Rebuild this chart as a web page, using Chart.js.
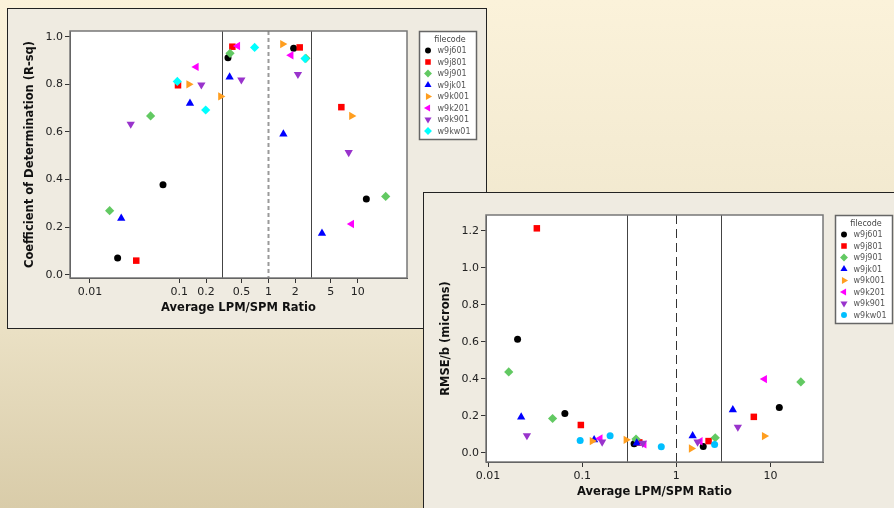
<!DOCTYPE html>
<html>
<head>
<meta charset="utf-8">
<script src="https://cdn.jsdelivr.net/npm/chart.js@4.4.1/dist/chart.umd.min.js"></script>
<style>
    html, body { margin: 0; padding: 0; }
    body {
        width: 894px; height: 508px; overflow: hidden; position: relative;
        background: linear-gradient(to bottom, #fbf2da 0%, #efe6cc 55%, #d9cca9 100%);
    }
    .panel { position: absolute; width: 478px; height: 319px; background: #efebe1; border: 1px solid #222; }
    #panel1 { left: 7px; top: 8px; z-index: 1; }
    #panel2 { left: 423px; top: 192px; z-index: 2; }
    canvas { display: block; }
</style>
</head>
<body>
<div class="panel" id="panel1"><canvas id="rsqChart" width="478" height="319"></canvas></div>
<div class="panel" id="panel2"><canvas id="rmseChart" width="478" height="319"></canvas></div>
<script>
// Series names (one per filecode)
const fileCodes = ['w9j601', 'w9j801', 'w9j901', 'w9jk01', 'w9k001', 'w9k201', 'w9k901', 'w9kw01'];

// Top chart: average LPM/SPM ratio vs R-sq, per filecode
const rsqRatios = [
    [0.0204, 0.0658, 0.352, 1.916, 12.5],
    [0.033, 0.0969, 0.394, 2.24, 6.56],
    [0.0166, 0.0478, 0.371, 2.63, 20.6],
    [0.0224, 0.132, 0.367, 1.47, 3.98],
    [0.128, 0.291, 1.44, 8.55],
    [0.155, 0.452, 1.79, 8.55],
    [0.0286, 0.177, 0.497, 2.14, 7.93],
    [0.0952, 0.198, 0.70, 2.57]
];
const rsqValues = [
    [0.070, 0.378, 0.912, 0.951, 0.318],
    [0.059, 0.796, 0.958, 0.955, 0.704],
    [0.269, 0.667, 0.930, 0.909, 0.329],
    [0.237, 0.720, 0.830, 0.591, 0.174],
    [0.800, 0.749, 0.969, 0.667],
    [0.873, 0.961, 0.922, 0.213],
    [0.633, 0.798, 0.819, 0.842, 0.514],
    [0.812, 0.692, 0.955, 0.908]
];

// Bottom chart: average LPM/SPM ratio vs RMSE/b (microns)
const rmseRatios = [
    [0.0206, 0.0655, 0.356, 1.93, 12.4],
    [0.033, 0.0968, 0.404, 2.20, 6.65],
    [0.0166, 0.0485, 0.373, 2.59, 21.0],
    [0.0225, 0.134, 0.38, 1.49, 3.98],
    [0.1276, 0.292, 1.44, 8.6],
    [0.155, 0.454, 1.79, 8.64],
    [0.0259, 0.163, 0.44, 1.68, 4.5],
    [0.0952, 0.198, 0.692, 2.55]
];
const rmseValues = [
    [0.614, 0.212, 0.049, 0.034, 0.245],
    [1.213, 0.150, 0.056, 0.063, 0.194],
    [0.437, 0.185, 0.074, 0.081, 0.383],
    [0.193, 0.070, 0.052, 0.092, 0.232],
    [0.063, 0.070, 0.023, 0.090],
    [0.077, 0.045, 0.062, 0.398],
    [0.093, 0.059, 0.052, 0.059, 0.139],
    [0.066, 0.092, 0.032, 0.045]
];

// Axis ticks and reference lines
const rsqXTicks = [0.01, 0.1, 0.2, 0.5, 1, 2, 5, 10];
const rsqYTicks = [0, 0.2, 0.4, 0.6, 0.8, 1.0];
const rmseXTicks = [0.01, 0.1, 1, 10];
const rmseYTicks = [0, 0.2, 0.4, 0.6, 0.8, 1.0, 1.2];
const refRatios = [0.3, 1, 3];

// Marker styles
const markerColors = ['#000000', '#ff0000', '#62c962', '#0000ff', '#ff9e1f', '#ff00ff', '#9933cc', '#00ffff'];
const markerShapes = ['circle', 'rect', 'rectRot', 'triangle', 'triangle', 'triangle', 'triangle', 'rectRot'];
const markerRotations = [0, 0, 0, 0, 90, -90, 180, 0];
const markerRadius = { circle: 3.5, rect: 4.6, rectRot: 4.6, triangle: 4.8 };

const tickFont = { family: 'DejaVu Sans', size: 11 };
const titleFont = { family: 'DejaVu Sans', size: 11.5, weight: 'bold' };

// White plot area, reference lines and box around it
const plotBox = {
    id: 'plotBox',
    beforeDraw(chart) {
        const { ctx, chartArea: a } = chart;
        ctx.save();
        ctx.fillStyle = '#ffffff';
        ctx.fillRect(a.left, a.top, a.right - a.left, a.bottom - a.top);
        ctx.restore();
    },
    beforeDatasetsDraw(chart, args, opts) {
        const { ctx, chartArea: a } = chart;
        const xs = chart.scales.x;
        ctx.save();
        opts.lines.forEach(line => {
            const px = Math.round(xs.getPixelForValue(line.value)) + 0.5;
            ctx.strokeStyle = line.color;
            ctx.lineWidth = line.width;
            ctx.setLineDash(line.dash || []);
            ctx.beginPath();
            ctx.moveTo(px, a.top);
            ctx.lineTo(px, a.bottom);
            ctx.stroke();
        });
        ctx.restore();
    },
    afterDatasetsDraw(chart) {
        const { ctx, chartArea: a } = chart;
        ctx.save();
        ctx.strokeStyle = '#777';
        ctx.lineWidth = 1.5;
        ctx.strokeRect(a.left, a.top, a.right - a.left, a.bottom - a.top);
        ctx.restore();
    }
};

// Minitab-like boxed legend to the right of the plot
const boxLegend = {
    id: 'boxLegend',
    afterDraw(chart) {
        const { ctx, chartArea: a } = chart;
        const x0 = a.right + 12.5, y0 = a.top + 0.5, w = 57, h = 108;
        ctx.save();
        ctx.fillStyle = '#ffffff';
        ctx.fillRect(x0, y0, w, h);
        ctx.strokeStyle = '#666';
        ctx.lineWidth = 1.5;
        ctx.strokeRect(x0, y0, w, h);

        ctx.font = '8px "DejaVu Sans"';
        ctx.fillStyle = '#444';
        ctx.textAlign = 'center';
        ctx.textBaseline = 'middle';
        ctx.fillText('filecode', x0 + w / 2 + 2, y0 + 8);

        ctx.textAlign = 'left';
        chart.data.datasets.forEach((ds, i) => {
            const y = y0 + 19 + i * 11.5;
            ctx.fillStyle = ds.backgroundColor;
            Chart.helpers.drawPoint(ctx, {
                pointStyle: ds.pointStyle,
                rotation: ds.pointRotation,
                radius: ds.pointRadius * 0.85,
                borderWidth: 0
            }, x0 + 8.5, y);
            ctx.fillStyle = '#555';
            ctx.fillText(ds.label, x0 + 18, y + 0.5);
        });
        ctx.restore();
    }
};

function buildDatasets(ratios, values, shapes, colors) {
    return fileCodes.map((code, i) => ({
        label: code,
        data: ratios[i].map((r, j) => ({ x: r, y: values[i][j] })),
        backgroundColor: colors[i],
        borderWidth: 0,
        pointStyle: shapes[i],
        pointRotation: markerRotations[i],
        pointRadius: markerRadius[shapes[i]],
        pointBorderWidth: 0,
        order: fileCodes.length - i
    }));
}

function makeChart(canvasId, datasets, xCfg, yCfg, yTitle, dashStyle) {
    return new Chart(document.getElementById(canvasId), {
        type: 'scatter',
        data: { datasets: datasets },
        plugins: [plotBox, boxLegend],
        options: {
            responsive: false,
            animation: false,
            events: [],
            layout: { padding: { top: 22, right: 79, bottom: 0, left: 0 } },
            plugins: {
                legend: { display: false },
                tooltip: { enabled: false },
                plotBox: {
                    lines: refRatios.map(v => v === 1
                        ? Object.assign({ value: v }, dashStyle)
                        : { value: v, color: '#444', width: 1 })
                }
            },
            scales: {
                x: {
                    type: 'logarithmic',
                    min: xCfg.min,
                    max: xCfg.max,
                    afterBuildTicks: s => { s.ticks = xCfg.ticks.map(v => ({ value: v })); },
                    afterFit: s => { s.height = 50; },
                    ticks: {
                        autoSkip: false, maxRotation: 0, padding: 3,
                        color: '#222', font: tickFont,
                        callback: v => String(v)
                    },
                    grid: { drawOnChartArea: false, tickLength: 5, color: '#333' },
                    border: { color: '#333', width: 1 },
                    title: {
                        display: true, text: 'Average LPM/SPM Ratio',
                        color: '#111', font: titleFont, padding: { top: 0, bottom: 13 }
                    }
                },
                y: {
                    min: yCfg.min,
                    max: yCfg.max,
                    afterBuildTicks: s => { s.ticks = yCfg.ticks.map(v => ({ value: v })); },
                    afterFit: s => { s.width = 62; },
                    ticks: {
                        padding: 2, color: '#222', font: tickFont,
                        callback: v => v.toFixed(1)
                    },
                    grid: { drawOnChartArea: false, tickLength: 5, color: '#333' },
                    border: { color: '#333', width: 1 },
                    title: {
                        display: true, text: yTitle,
                        color: '#111', font: titleFont, padding: { top: 15, bottom: 0 }
                    }
                }
            }
        }
    });
}

const rmseColors = markerColors.slice(0, 7).concat(['#00bfff']);
const rmseShapes = markerShapes.slice(0, 7).concat(['circle']);

makeChart('rsqChart',
    buildDatasets(rsqRatios, rsqValues, markerShapes, markerColors),
    { min: 0.00597, max: 35.7, ticks: rsqXTicks },
    { min: -0.014, max: 1.024, ticks: rsqYTicks },
    'Coefficient of Determination (R-sq)',
    { color: '#9a9a9a', width: 2, dash: [4, 3] });

makeChart('rmseChart',
    buildDatasets(rmseRatios, rmseValues, rmseShapes, rmseColors),
    { min: 0.00952, max: 36.1, ticks: rmseXTicks },
    { min: -0.05, max: 1.285, ticks: rmseYTicks },
    'RMSE/b (microns)',
    { color: '#333', width: 1, dash: [9, 5] });
</script>
</body>
</html>
